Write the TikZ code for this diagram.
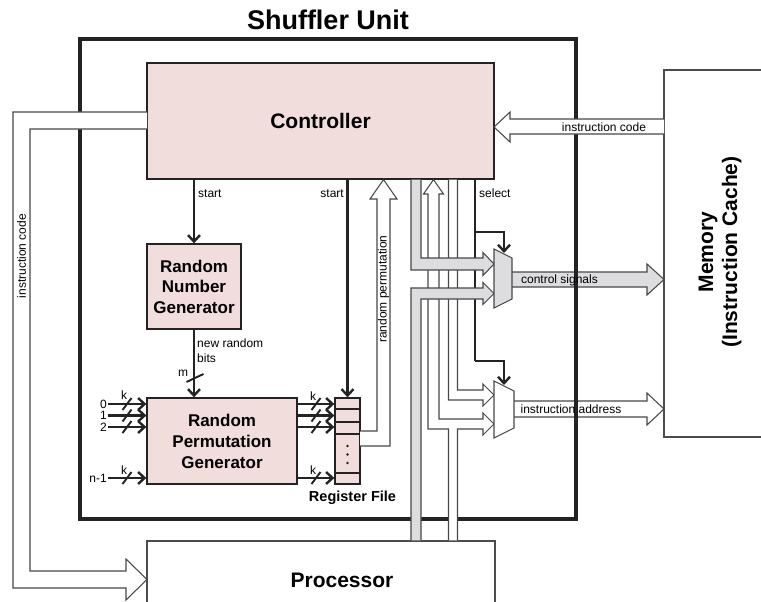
\documentclass[tikz,border=0pt]{standalone}
\usepackage{fontspec}
\setmainfont{Liberation Sans}
\usetikzlibrary{arrows.meta}
\definecolor{pinkc}{RGB}{242,221,221}
\definecolor{busgray}{RGB}{221,221,223}
\definecolor{linec}{RGB}{35,35,35}
\begin{document}
\begin{tikzpicture}[x=1pt,y=-1pt,
  blk/.style={draw=linec, line width=1.3pt, fill=pinkc, inner sep=0pt, align=center,
              font=\bfseries\fontsize{17}{20.5}\selectfont},
  sig/.style={draw=linec, line width=2.4pt, -{Straight Barb[length=6.5pt,width=12pt]}},
  wire/.style={draw=linec, line width=1.9pt},
  bus/.style={draw=black!72, line width=1.05pt, fill=white, line join=miter},
  gbus/.style={bus, fill=busgray},
  lbl/.style={font=\fontsize{12}{14.5}\selectfont, inner sep=0pt},
  big/.style={font=\bfseries\fontsize{21}{24}\selectfont, inner sep=0pt, align=center},
  outl/.style={draw=black!70, line width=1.2pt}
]
\useasboundingbox (0,0) rectangle (761,602);

% title
\node[font=\bfseries\fontsize{27}{30}\selectfont, inner sep=0pt, anchor=base] (title) at (328,30) {Shuffler Unit};

% outputs to memory (under the unit border)
\draw[gbus] (512,272) -- (647,272) -- (647,264) -- (664,279.5) -- (647,295) -- (647,287) -- (512,287);
\draw[bus] (514,401) -- (647,401) -- (647,393) -- (664,409) -- (647,425) -- (647,417) -- (514,417);

% shuffler unit border
\draw[line width=3.5pt, linec] (80,39) rectangle (576,519);

% blocks
\node[blk, minimum width=347pt, minimum height=116pt, font=\bfseries\fontsize{21}{24}\selectfont] (ctrl) at (320.5,121) {Controller};
\node[blk, minimum width=94pt, minimum height=85pt] (rng) at (194,286.5) {Random\\Number\\Generator};
\node[blk, minimum width=150pt, minimum height=86pt, font=\bfseries\fontsize{17}{21}\selectfont] (rpg) at (222,441) {Random\\Permutation\\Generator};
\node[draw=linec, line width=1.3pt, fill=pinkc, minimum width=25pt, minimum height=86pt, inner sep=0pt] (rf) at (347.5,441) {};
\foreach \yy in {409,422,434,473} \draw[linec, line width=2.2pt] (335,\yy) -- (360,\yy);
\foreach \yy in {446,454.5,463} \fill[linec] (347.5,\yy) circle (1.4pt);
\node[font=\bfseries\fontsize{14.5}{16}\selectfont, inner sep=0pt] (rflbl) at (352.5,498) {Register File};

% memory and processor
\draw[outl] (761,70) -- (664,70) -- (664,437) -- (761,437);
\node[big, rotate=90] (mem) at (720,252) {Memory\\(Instruction Cache)};
\draw[outl] (147,602) -- (147,541) -- (495,541) -- (495,602);
\node[big] (proc) at (342,580) {Processor};

% hollow buses (white)
\draw[bus] (448.5,179.6) -- (448.5,400) -- (483,400) -- (483,406) -- (494,395) -- (483,384) -- (483,390) -- (457.5,390) -- (457.5,179.6);
\draw[bus] (448.5,540.4) -- (448.5,429) -- (428,429) -- (428,194) -- (423.5,194) -- (433.5,179.6) -- (443.5,194) -- (439,194) -- (439,419) -- (483,419) -- (483,413) -- (494,424) -- (483,435) -- (483,429) -- (457.5,429) -- (457.5,540.4);

% select line
\draw[wire] (475,179.6) -- (475,361);

% gray buses
\draw[gbus] (411,179.6) -- (411,270) -- (483,270) -- (483,275.5) -- (494,264) -- (483,252.5) -- (483,258) -- (421,258) -- (421,179.6);
\draw[gbus] (411,540.4) -- (411,288) -- (483,288) -- (483,282.5) -- (494,293.5) -- (483,304.5) -- (483,299) -- (421,299) -- (421,540.4);

% multiplexers
\draw[black!72, line width=1.05pt, fill=busgray] (494,249) -- (512,258) -- (512,299) -- (494,308) -- cycle;
\draw[black!72, line width=1.05pt, fill=white] (494,381) -- (514,391) -- (514,428) -- (494,438) -- cycle;
\draw[sig] (475,232) -- (504,232) -- (504,253);
\draw[sig] (475,361) -- (504,361) -- (504,385);

% start signals
\draw[sig] (ctrl.south -| rng.north) -- (rng.north);
\draw[sig] (ctrl.south -| rf.north) -- (rf.north);
\draw[sig] (rng.south) -- (rng.south |- rpg.north);
\draw[wire] (186.5,382) -- (203.5,374);

% inputs and outputs of the permutation generator
\foreach \yy/\txt in {404/0, 415.5/1, 427/2, 478/n-1} {
  \draw[sig] (108,\yy) -- (rpg.west |- 0,\yy);
  \draw[wire] (122.5,\yy+6) -- (131.5,\yy-6);
  \node[lbl, anchor=east] at (107,\yy) {\txt};
}
\foreach \yy in {404, 415.5, 427, 478} {
  \draw[sig] (rpg.east |- 0,\yy) -- (rf.west |- 0,\yy);
  \draw[wire] (311.5,\yy+6) -- (320.5,\yy-6);
}

% instruction code arrows and random permutation
\draw[bus] (664,119) -- (510,119) -- (510,112) -- (494,127) -- (510,142) -- (510,134) -- (664,134);
\draw[bus] (147,112) -- (13,112) -- (13,588) -- (126,588) -- (126,600) -- (147,579.5) -- (126,559) -- (126,571) -- (30,571) -- (30,129) -- (147,129);
\draw[bus] (360,431) -- (377,431) -- (377,199) -- (370,199) -- (383.5,179.6) -- (397,199) -- (390,199) -- (390,446) -- (360,446);

% labels
\node[lbl, anchor=west] at (198,194) {start};
\node[lbl, anchor=east] at (344,194) {start};
\node[lbl, anchor=west] at (479,193) {select};
\node[lbl, anchor=west, align=left] at (197,350.5) {new random\\bits};
\node[lbl] at (183,373) {m};
\foreach \p in {(124,395),(124,470),(313,396),(313,470)} \node[lbl] at \p {k};
\node[lbl] at (604,127) {instruction code};
\node[lbl] at (559.5,280) {control signals};
\node[lbl] at (571,409) {instruction address};
\node[lbl, rotate=90] at (383.5,289) {random permutation};
\node[lbl, rotate=90] at (21.5,256) {instruction code};
\end{tikzpicture}
\end{document}
